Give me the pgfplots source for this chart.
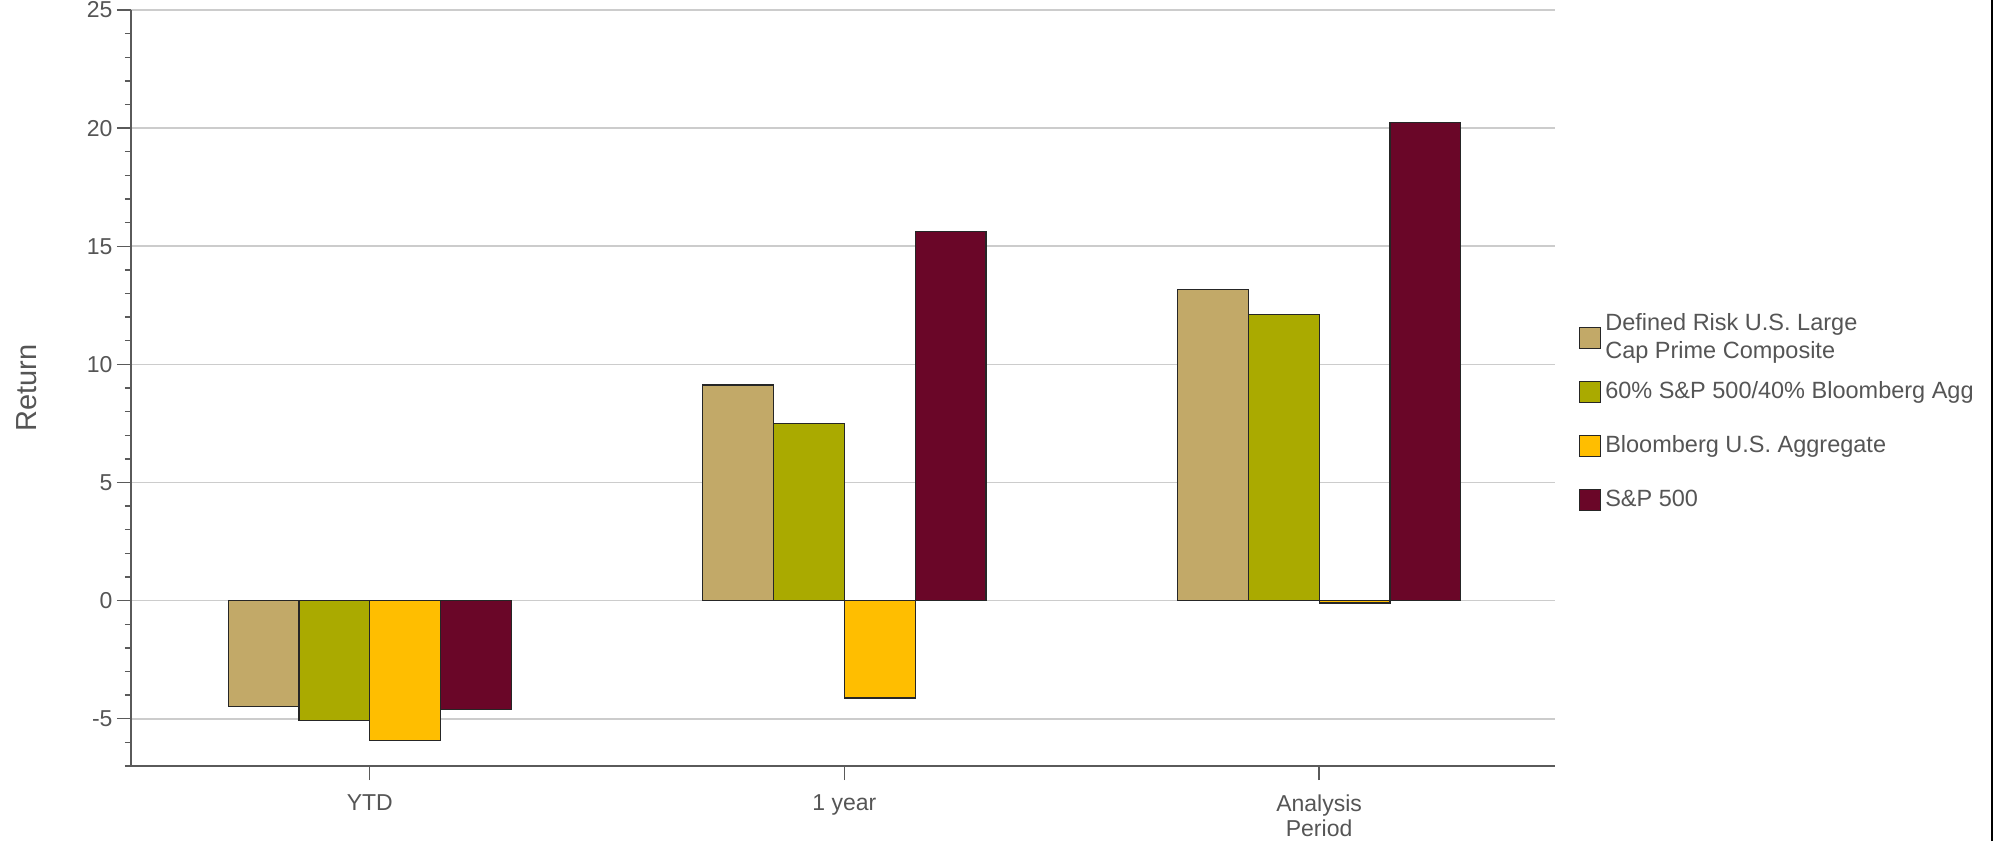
\documentclass[border=0pt]{standalone}
\usepackage{fontspec}
\setmainfont{Liberation Sans}
\usepackage{pgfplots}
\pgfplotsset{compat=1.18}
\definecolor{tanc}{RGB}{194,169,104}
\definecolor{olivec}{RGB}{170,170,0}
\definecolor{ambc}{RGB}{255,190,0}
\definecolor{maroonc}{RGB}{106,6,40}
\definecolor{txt}{RGB}{85,85,85}
\definecolor{gridc}{RGB}{204,204,204}
\definecolor{axc}{RGB}{90,90,90}
\begin{document}
\begin{tikzpicture}
\path[use as bounding box] (0,0) rectangle (1000.5pt,420.5pt);
\draw[black, line width=1pt] (996pt,0) -- (996pt,420.5pt);
\begin{axis}[
  at={(65.5pt,37.5pt)}, anchor=south west,
  scale only axis, width=712pt, height=378pt,
  xmin=-0.503, xmax=2.497, ymin=-7, ymax=25,
  ybar=0pt, bar width=35.4pt,
  axis x line*=bottom, axis y line*=left,
  axis line style={axc, line width=0.8pt},
  xtick={0,1,2}, xticklabels={YTD,1 year,{Analysis\\Period}},
  ytick={-5,0,5,10,15,20,25},
  minor ytick={-7,-6,...,25},
  ymajorgrids, grid style={gridc, line width=0.8pt},
  tick align=outside, major tick length=7pt, minor tick length=3pt,
  tick style={axc, line width=0.7pt},
  tick label style={font=\fontsize{11.5}{12.8}\selectfont, text=txt},
  xticklabel style={align=center, yshift=-3.8pt},
  yticklabel style={xshift=1.3pt},
  /pgf/number format/assume math mode=true,
  ylabel={Return},
  ylabel style={at={(axis description cs:-0.0730,0.5)}, anchor=center, font=\fontsize{14.5}{17}\selectfont, text=txt},
  legend image code/.code={\draw[#1,/tikz/.cd,draw=black!85,line width=0.6pt] (0pt,-5.25pt) rectangle (10.5pt,5.25pt);},
  legend cell align=left,
  legend style={at={(axis description cs:1.0169,0.6020)}, anchor=north west, draw=none, fill=none,
    inner sep=0pt, outer sep=0pt,
    font=\fontsize{11.75}{14}\selectfont, text=txt,
    nodes={align=left, inner xsep=2pt, inner ysep=0pt, minimum height=27pt}},
  every axis plot/.append style={draw=black!85, line width=0.6pt},
]
\addplot[fill=tanc] coordinates {(0,-4.49) (1,9.13) (2,13.17)};
\addlegendentry{Defined Risk U.S. Large\\Cap Prime Composite}
\addplot[fill=olivec] coordinates {(0,-5.06) (1,7.49) (2,12.10)};
\addlegendentry{60\% S\&P 500/40\% Bloomberg Agg}
\addplot[fill=ambc] coordinates {(0,-5.93) (1,-4.12) (2,-0.10)};
\addlegendentry{Bloomberg U.S. Aggregate}
\addplot[fill=maroonc] coordinates {(0,-4.60) (1,15.63) (2,20.23)};
\addlegendentry{S\&P 500}
\end{axis}
\end{tikzpicture}
\end{document}
